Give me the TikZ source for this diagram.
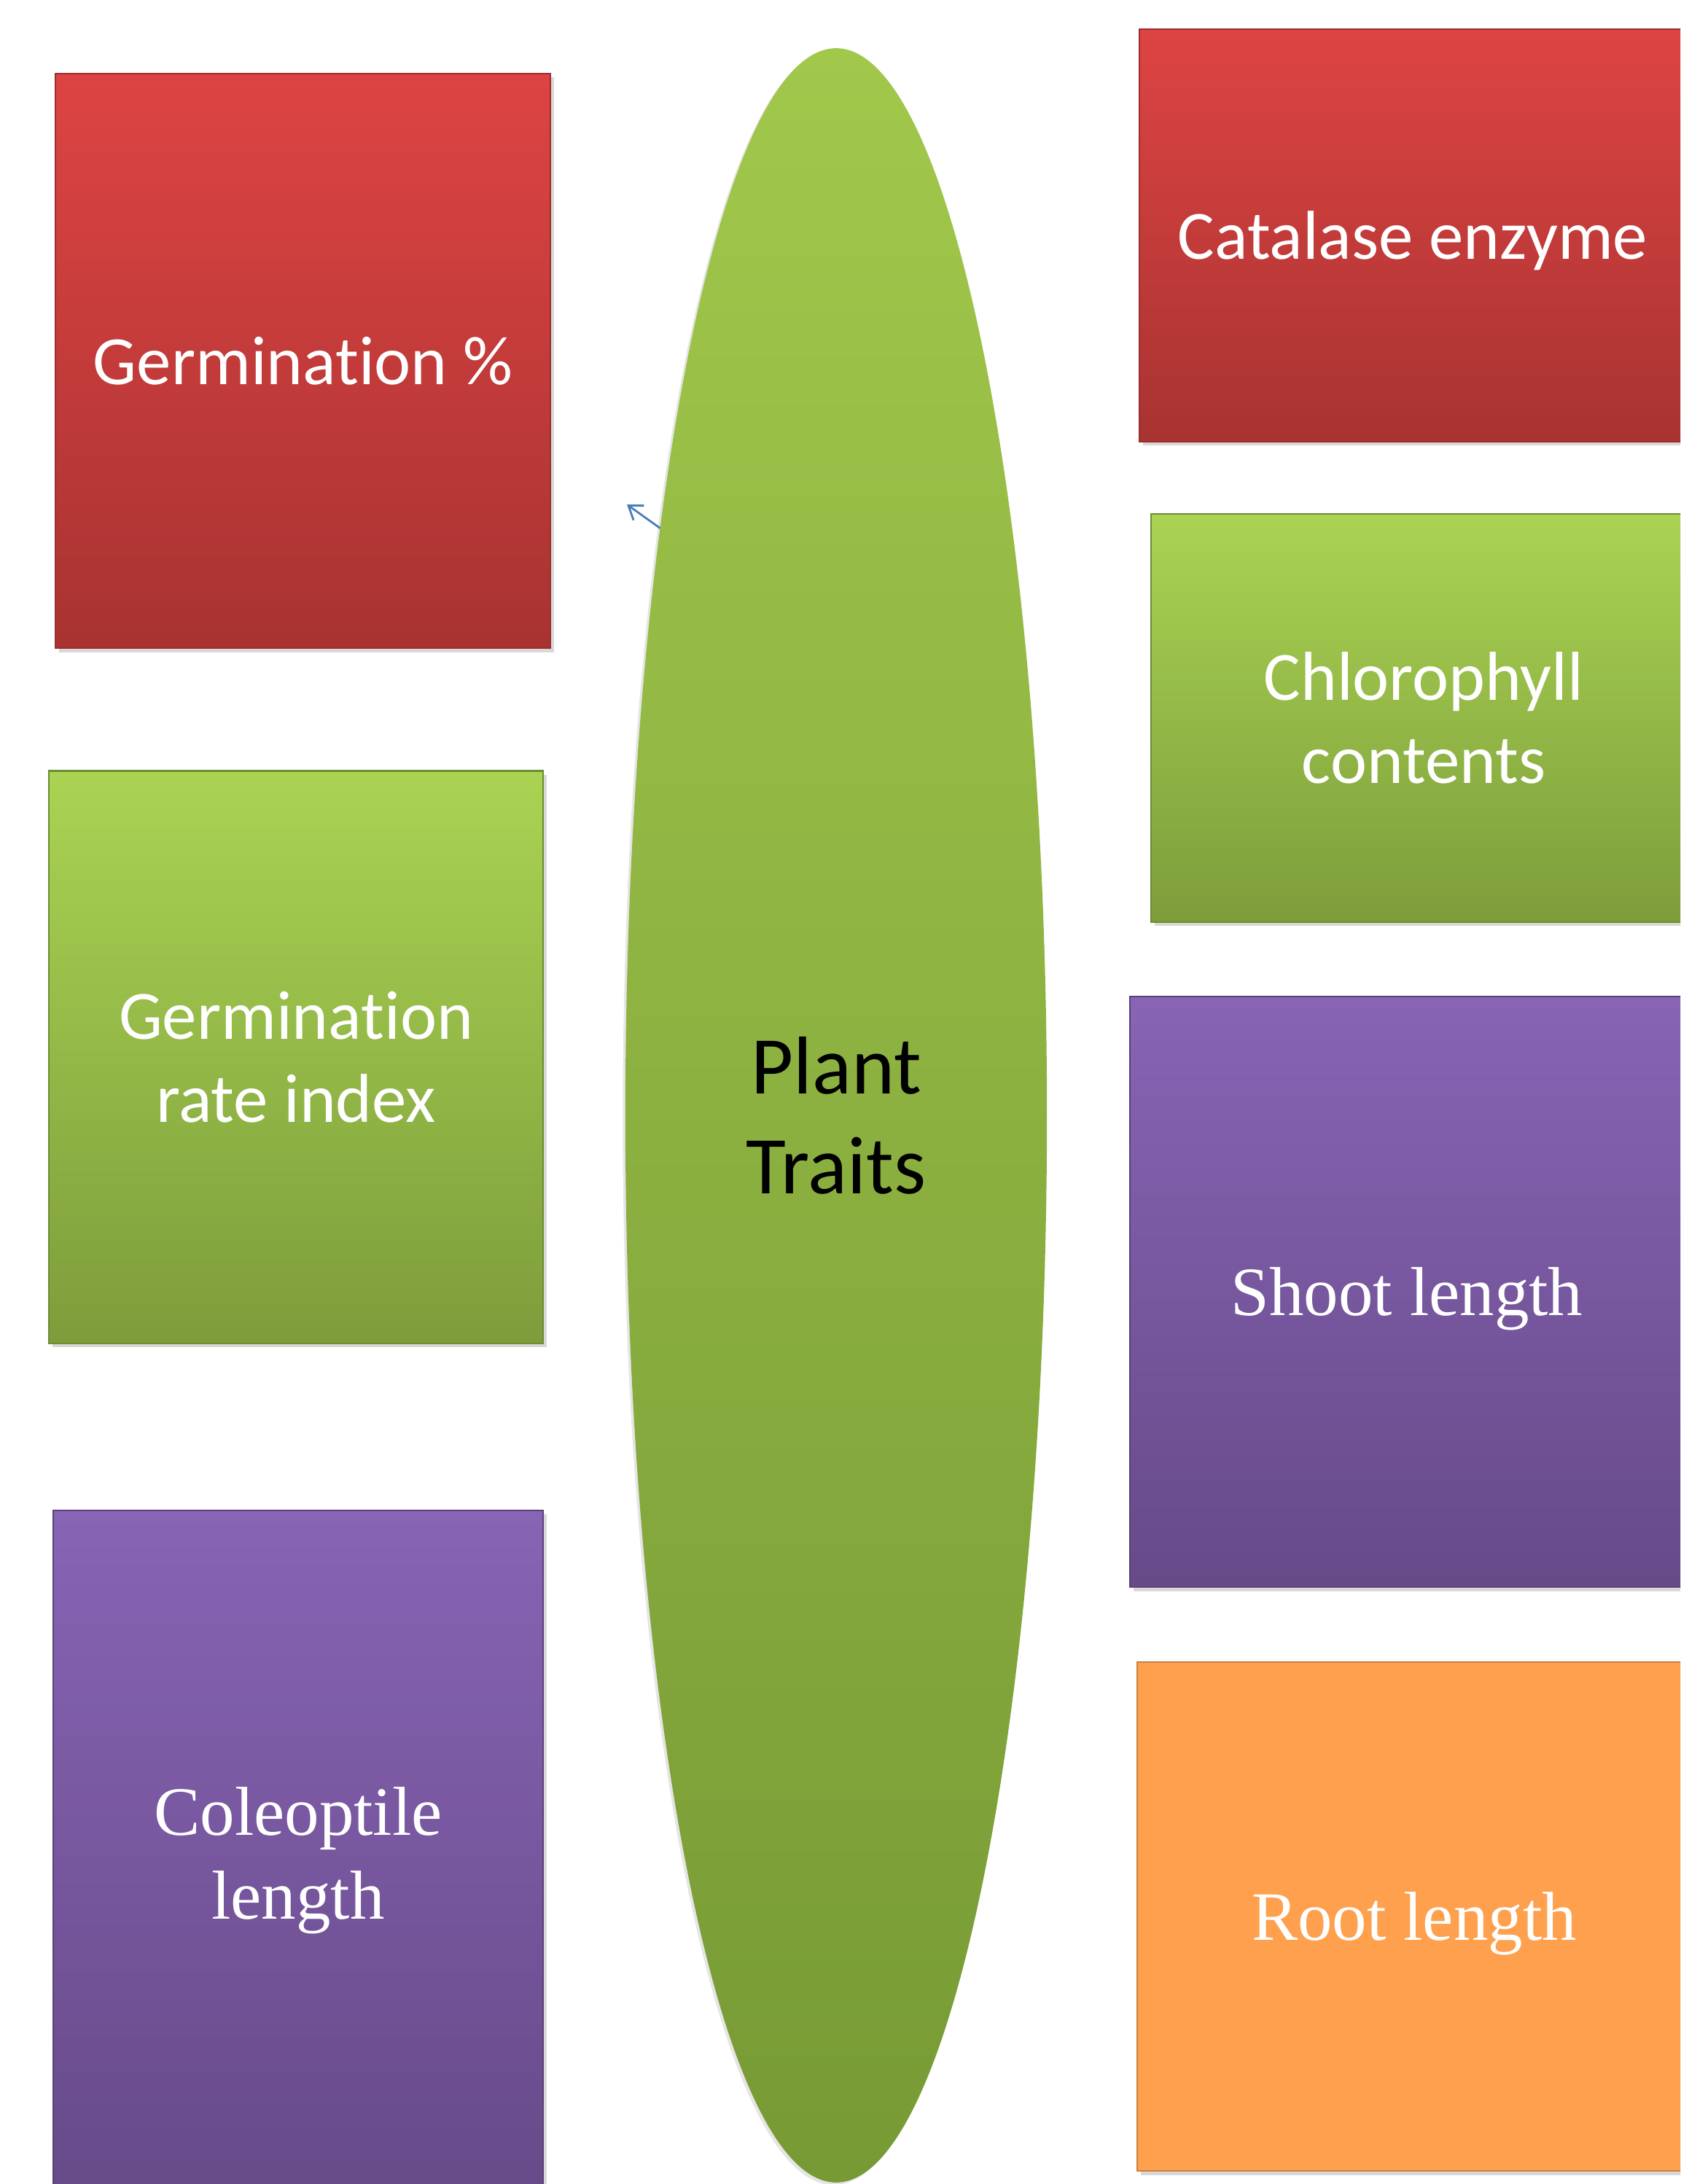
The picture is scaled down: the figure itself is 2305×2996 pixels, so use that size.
\documentclass[tikz,border=0pt]{standalone}
\usepackage{fontspec}
\setmainfont[Ligatures=NoCommon]{Carlito}
\newfontfamily\tnr{Liberation Serif}
\usetikzlibrary{arrows.meta,shapes.geometric,shadows,calc}
\definecolor{redT}{HTML}{DD4443}
\definecolor{redB}{HTML}{A83331}
\definecolor{redE}{HTML}{9A2E2C}
\definecolor{grnT}{HTML}{AAD353}
\definecolor{grnB}{HTML}{7D9D3B}
\definecolor{grnE}{HTML}{6E8C33}
\definecolor{purT}{HTML}{8864B5}
\definecolor{purB}{HTML}{664A88}
\definecolor{purE}{HTML}{5A4179}
\definecolor{orgF}{HTML}{FEA04D}
\definecolor{orgE}{HTML}{C9823F}
\definecolor{ellT}{HTML}{A1C74B}
\definecolor{ellB}{HTML}{779A35}
\definecolor{arrowblue}{HTML}{4A7EBB}
\tikzset{
  tbox/.style={rectangle, inner sep=0pt, align=center, text=white,
    font=\fontsize{27}{32.6}\selectfont, line width=0.7pt,
    drop shadow={shadow xshift=1.5pt,shadow yshift=-1.5pt,opacity=0.3}},
  redbox/.style={tbox, top color=redT, bottom color=redB, draw=redE},
  grnbox/.style={tbox, top color=grnT, bottom color=grnB, draw=grnE},
  purbox/.style={tbox, top color=purT, bottom color=purB, draw=purE},
  orgbox/.style={tbox, fill=orgF, draw=orgE},
  serif/.style={font=\tnr\fontsize{27}{32.6}\selectfont, text depth=0pt},
  hub/.style={ellipse, inner sep=0pt, top color=ellT, bottom color=ellB,
    draw=none, align=center, text=black, font=\fontsize{32}{39}\selectfont,
    drop shadow={shadow xshift=-1pt,shadow yshift=-1pt,opacity=0.2}},
  link/.style={draw=arrowblue, line width=0.8pt, -{Straight Barb[length=5pt,width=7pt]}}
}
\begin{document}
\begin{tikzpicture}[x=0.01cm,y=-0.01cm]
\useasboundingbox (0,0) rectangle (2305,2996);
\clip (0,0) rectangle (2305,2996);
\fill[white] (0,0) rectangle (2305,2996);

\node[redbox, minimum width=6.79cm, minimum height=7.88cm] (germ) at (415.5,495) {Germination \%};
\node[redbox, text depth=0pt, minimum width=7.50cm, minimum height=5.66cm] (cat) at (1938,323) {Catalase enzyme};
\node[grnbox, minimum width=7.48cm, minimum height=5.60cm] (chl) at (1953,985) {Chlorophyll\\contents};
\node[grnbox, minimum width=6.78cm, minimum height=7.85cm] (gri) at (406,1450) {Germination\\rate index};
\node[purbox, serif, minimum width=7.60cm, minimum height=8.10cm] (shoot) at (1930,1772) {Shoot length};
\node[purbox, serif, minimum width=6.72cm, minimum height=9.40cm] (cole) at (409,2542) {Coleoptile\\length};
\node[orgbox, serif, minimum width=7.60cm, minimum height=6.98cm] (root) at (1940,2629) {Root length};

\node[hub, minimum width=5.78cm, minimum height=29.26cm] (pt) at (1147,1530) {Plant\\Traits};

\coordinate (tip) at (860,692);
\draw[link] ($(pt.center)+(213.4:289 and 1463)$) -- (tip);
\end{tikzpicture}
\end{document}
